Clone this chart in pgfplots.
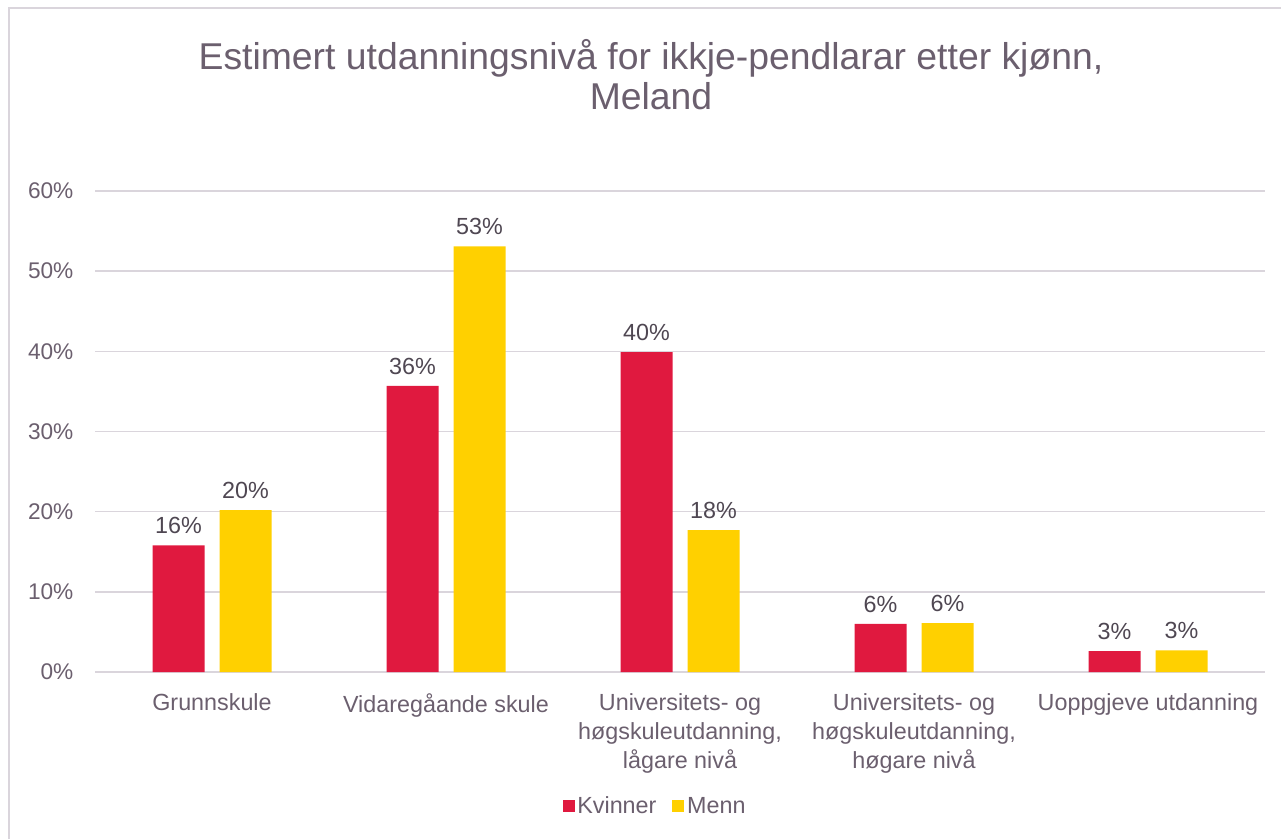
\documentclass[border=0pt]{standalone}
\usepackage{fontspec}
\setmainfont{Liberation Sans}
\usepackage{pgfplots}
\pgfplotsset{compat=1.18}
\definecolor{kv}{HTML}{E0193F}
\definecolor{me}{HTML}{FFD000}
\definecolor{txt}{HTML}{6B5F6E}
\definecolor{lbl}{HTML}{4F4752}
\definecolor{grd}{HTML}{DAD5DC}
\begin{document}
\begin{tikzpicture}
\useasboundingbox (0,0) rectangle (960.75pt,629.25pt);
\draw[grd, line width=1.2pt] (6.75pt,0pt) -- (6.75pt,623.25pt) -- (960.75pt,623.25pt);
\node[align=center, text=txt, font=\fontsize{28}{30}\selectfont] at (488.25pt,573.5pt) {Estimert utdanningsnivå for ikkje-pendlarar etter kjønn,\\Meland};
\begin{axis}[
  at={(71.25pt,125.25pt)}, anchor=south west,
  scale only axis, width=877.5pt, height=360.75pt,
  xmin=-0.5, xmax=4.5, ymin=0, ymax=60,
  ybar=11.25pt, bar width=39pt,
  /pgf/number format/assume math mode=true,
  axis line style={draw=none},
  tick style={draw=none},
  ymajorgrids, grid style={grd, line width=1.1pt},
  ytick={0,10,...,60},
  yticklabel={\pgfmathprintnumber{\tick}\%},
  yticklabel style={text=txt, font=\fontsize{17}{19}\selectfont, inner sep=0pt, xshift=-16pt},
  xtick={0,...,4},
  xticklabels={Grunnskule, Vidaregåande skule, {Universitets- og\\høgskuleutdanning,\\lågare nivå}, {Universitets- og\\høgskuleutdanning,\\høgare nivå}, Uoppgjeve utdanning},
  xticklabel style={align=center, text=txt, font=\fontsize{17.5}{21.5}\selectfont, anchor=north, inner sep=0pt, yshift=-12pt},
  nodes near coords={\pgfmathprintnumber[fixed,precision=0]{\pgfplotspointmeta}\%},
  nodes near coords style={text=lbl, font=\fontsize{17.5}{19}\selectfont, anchor=south, yshift=5pt},
  legend style={at={(0.479,-0.279)}, anchor=center, draw=none, legend columns=2,
    font=\fontsize{17.5}{19}\selectfont, text=txt,
    /tikz/every even column/.append style={column sep=10pt}},
  legend image code/.code={\fill[#1] (0pt,-4.5pt) rectangle (9pt,4.5pt);},
]
\addplot[fill=kv, draw=none] coordinates {(0,15.8) (1,35.7) (2,39.9) (3,6.0) (4,2.6)};
\addplot[fill=me, draw=none] coordinates {(0,20.2) (1,53.1) (2,17.7) (3,6.1) (4,2.7)};
\legend{Kvinner, Menn}
\end{axis}
\end{tikzpicture}
\end{document}
